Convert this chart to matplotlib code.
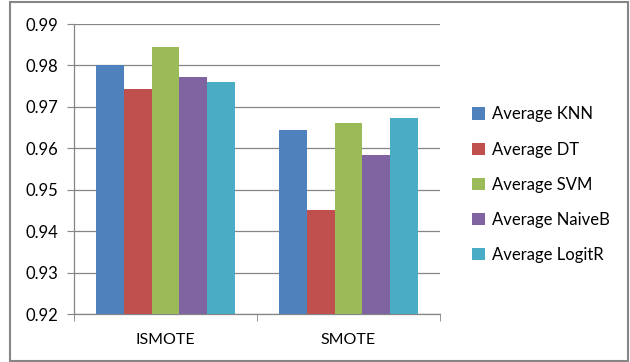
import numpy as np
import matplotlib.pyplot as plt
from matplotlib.patches import Rectangle

plt.rcParams['font.family'] = ['Lato', 'DejaVu Sans']

methods = ['ISMOTE', 'SMOTE']
series = ['Average KNN', 'Average DT', 'Average SVM', 'Average NaiveB', 'Average LogitR']
knn = [0.9800, 0.9645]
dt = [0.9742, 0.9452]
svm = [0.9845, 0.9660]
naiveb = [0.9771, 0.9584]
logitr = [0.9760, 0.9673]
colors = ['#4F81BD', '#C0504D', '#9BBB59', '#8064A2', '#4BACC6']

fig = plt.figure(figsize=(6.3, 3.62), dpi=100)
ax = fig.add_axes([74 / 630, 1 - 314 / 362, 366 / 630, 290 / 362])

x = np.arange(len(methods))
w = 0.153
for i, (vals, name) in enumerate(zip([knn, dt, svm, naiveb, logitr], series)):
    ax.bar(x + (i - 2) * w, np.array(vals) - 0.92, w, bottom=0.92,
           color=colors[i], label=name, zorder=3)

ax.set_ylim(0.92, 0.99)
ax.set_xlim(-0.5, 1.5)
ax.set_yticks(np.arange(0.92, 0.9901, 0.01))
ax.set_yticklabels(['%.2f' % v for v in np.arange(0.92, 0.9901, 0.01)])
ax.yaxis.grid(True, color='#868686', linewidth=0.9, zorder=0)
ax.set_xticks(x)
ax.set_xticklabels(methods)
ax.set_xticks([-0.5, 0.5, 1.5], minor=True)
ax.tick_params(axis='x', which='major', length=0, pad=14, labelsize=11.5)
ax.tick_params(axis='x', which='minor', length=5, color='#868686', direction='out')
ax.tick_params(axis='y', length=5, color='#868686', pad=6, labelsize=12)

for s in ['top', 'right']:
    ax.spines[s].set_visible(False)
for s in ['left', 'bottom']:
    ax.spines[s].set_color('#868686')
    ax.spines[s].set_linewidth(0.9)

ax.legend(loc='upper left', bbox_to_anchor=(464 / 630, 1 - 98 / 362),
          bbox_transform=fig.transFigure, frameon=False, fontsize=12,
          handlelength=0.75, handleheight=0.75, handletextpad=0.4,
          labelspacing=1.15, borderpad=0)

fig.patches.append(Rectangle((10 / 630, 1 / 362), 618 / 630, 359 / 362,
                             transform=fig.transFigure, fill=False,
                             edgecolor='#868686', linewidth=1.5))

fig.savefig('out.png', dpi=100)
